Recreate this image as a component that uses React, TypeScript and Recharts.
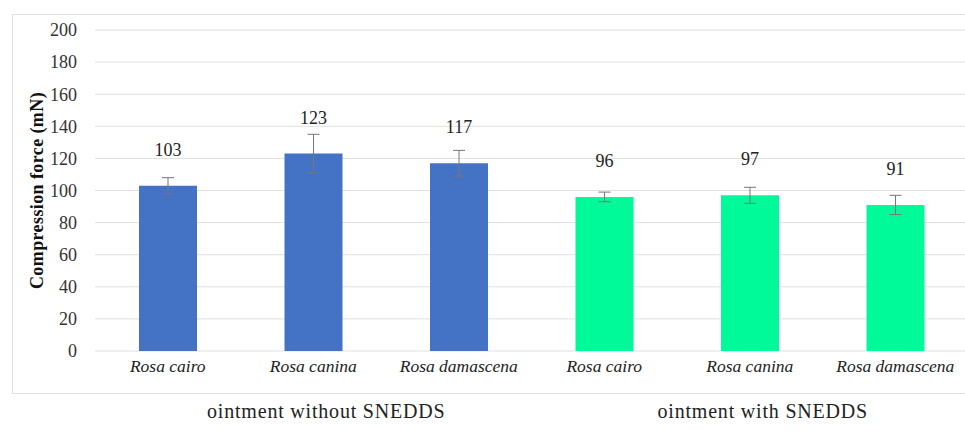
import { BarChart, Bar, XAxis, YAxis, CartesianGrid, ErrorBar, Cell, LabelList, Label } from 'recharts'

const categories = ['Rosa cairo', 'Rosa canina', 'Rosa damascena', 'Rosa cairo', 'Rosa canina', 'Rosa damascena']
const groups = ['ointment without SNEDDS', 'ointment without SNEDDS', 'ointment without SNEDDS', 'ointment with SNEDDS', 'ointment with SNEDDS', 'ointment with SNEDDS']
const forces = [103, 123, 117, 96, 97, 91]
const errors = [5, 12, 8, 3, 5, 6]
const yTicks = [0, 20, 40, 60, 80, 100, 120, 140, 160, 180, 200]

const BLUE = '#4472C4'
const GREEN = '#00FA9A'
const FONT = 'Liberation Serif'

const data = forces.map((v, i) => ({ id: i, name: categories[i], group: groups[i], value: v, err: errors[i] }))

const YTitle = ({ viewBox }: any) => {
  const cy = viewBox.y + viewBox.height / 2
  return (
    <text x={37} y={cy} transform={`rotate(-90, 37, ${cy})`} textAnchor="middle" dominantBaseline="central"
      style={{ fontFamily: FONT, fontSize: 18, fontWeight: 700, fill: '#111', letterSpacing: 0.4 }}>
      Compression force (mN)
    </text>
  )
}

export default function App() {
  return (
    <div style={{ position: 'relative', width: 965, height: 430, overflow: 'hidden', background: '#fff', fontFamily: FONT }}>
      <style>{'body{margin:0;overflow:hidden}'}</style>
      <div style={{ position: 'absolute', left: 12, top: 14, width: 980, height: 378, border: '1px solid #e3e3e3' }} />
      <div style={{ position: 'absolute', left: 0, top: 0 }}>
        <BarChart width={975} height={430} data={data} margin={{ top: 30, right: 7, left: 0, bottom: 0 }}>
          <CartesianGrid vertical={false} stroke="#e0e0e0" />
          <XAxis dataKey="id" tickFormatter={(i: number) => categories[i]} axisLine={false} tickLine={false}
            tickSize={0} tickMargin={9} height={30}
            tick={{ fontFamily: FONT, fontSize: 17.5, fontStyle: 'italic', fill: '#222' }} />
          <XAxis xAxisId="group" dataKey="group" allowDuplicatedCategory={false} axisLine={false} tickLine={false}
            tickSize={0} tickMargin={23} height={49} dx={13}
            tick={{ fontFamily: FONT, fontSize: 20, fill: '#222', letterSpacing: 0.8 }} />
          <YAxis domain={[0, 200]} ticks={yTicks} interval={0} width={95} axisLine={false} tickLine={false}
            tickSize={0} tickMargin={18}
            tick={{ fontFamily: FONT, fontSize: 18, fill: '#333' }}>
            <Label content={<YTitle />} />
          </YAxis>
          <Bar dataKey="value" barSize={58} isAnimationActive={false}>
            {data.map((d) => (
              <Cell key={d.id} fill={d.id < 3 ? BLUE : GREEN} />
            ))}
            <ErrorBar dataKey="err" width={6} stroke="#777" strokeWidth={1} isAnimationActive={false} />
            <LabelList dataKey="value" position="top" offset={30}
              style={{ fontFamily: FONT, fontSize: 18, fill: '#222' }} />
          </Bar>
        </BarChart>
      </div>
    </div>
  )
}
